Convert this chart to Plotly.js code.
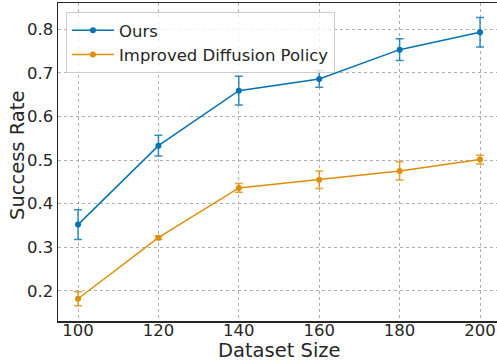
<!DOCTYPE html>
<html><head><meta charset="utf-8">
<script src="https://cdn.plot.ly/plotly-3.0.1.min.js"></script>
<style>html,body{margin:0;padding:0;background:#fff;overflow:hidden}</style>
</head><body><div id="chart" style="width:500px;height:360px"></div>
<script>
const datasetSizes = [100, 120, 140, 160, 180, 200];
const oursMean = [0.352, 0.533, 0.659, 0.686, 0.753, 0.793];
const oursErr = [0.034, 0.024, 0.033, 0.019, 0.025, 0.034];
const idpMean = [0.182, 0.322, 0.436, 0.455, 0.475, 0.501];
const idpErr = [0.016, 0.004, 0.010, 0.020, 0.021, 0.010];
const seriesNames = ["Ours", "Improved Diffusion Policy"];
const xTicks = [100, 120, 140, 160, 180, 200];
const yTicks = [0.2, 0.3, 0.4, 0.5, 0.6, 0.7, 0.8];
const xTitle = 'Dataset Size';
const yTitle = 'Success Rate';

function trace(name, y, err, color, errColor) {
  return {
    x: datasetSizes, y: y, name: name, type: 'scatter', mode: 'lines+markers',
    line: {color: color, width: 1.5},
    marker: {color: color, size: 6},
    error_y: {type: 'data', array: err, visible: true, color: errColor, thickness: 1.5, width: 4}
  };
}
const data = [
  trace(seriesNames[0], oursMean, oursErr, '#0173b2', 'rgba(1,115,178,0.8)'),
  trace(seriesNames[1], idpMean, idpErr, '#de8f05', 'rgba(222,143,5,0.8)')
];
const gridStyle = {showgrid: true, gridcolor: '#b0b0b0', griddash: 'dot', gridwidth: 1};
const layout = {
  width: 500, height: 360,
  margin: {l: 58, r: 0, t: 3, b: 39},
  paper_bgcolor: '#fff', plot_bgcolor: '#fff',
  font: {family: 'DejaVu Sans', color: '#262626'},
  showlegend: true,
  legend: {x: 0.018, y: 0.972, xanchor: 'left', yanchor: 'top',
    bordercolor: '#cccccc', borderwidth: 1, bgcolor: 'rgba(255,255,255,0.8)',
    itemwidth: 42,
    font: {size: 16.5, family: 'DejaVu Sans', color: '#262626'}, tracegroupgap: 0},
  xaxis: Object.assign({
    range: [95.02, 204.97], tickvals: xTicks, ticktext: xTicks.map(String),
    tickfont: {size: 16.5}, ticks: '', ticklabelstandoff: -6, showline: true, linecolor: '#262626', linewidth: 1.5,
    mirror: true, zeroline: false
  }, gridStyle),
  yaxis: Object.assign({
    range: [0.131, 0.860], tickvals: yTicks, ticktext: yTicks.map(v => v.toFixed(1)),
    tickfont: {size: 16.5}, ticks: '', showline: true, linecolor: '#262626', linewidth: 1.5,
    zeroline: false
  }, gridStyle),
  annotations: [
    {text: xTitle, xref: 'paper', yref: 'paper', x: 0.5, y: -0.093, xanchor: 'center', yanchor: 'middle',
     borderpad: 0, showarrow: false, font: {size: 19.5, color: '#262626'}},
    {text: yTitle, xref: 'paper', yref: 'paper', x: -0.092, y: 0.52, xanchor: 'center', yanchor: 'middle',
     textangle: -90, showarrow: false, font: {size: 19.5, color: '#262626'}}
  ]
};
Plotly.newPlot('chart', data, layout, {displayModeBar: false, staticPlot: true});
</script></body></html>
